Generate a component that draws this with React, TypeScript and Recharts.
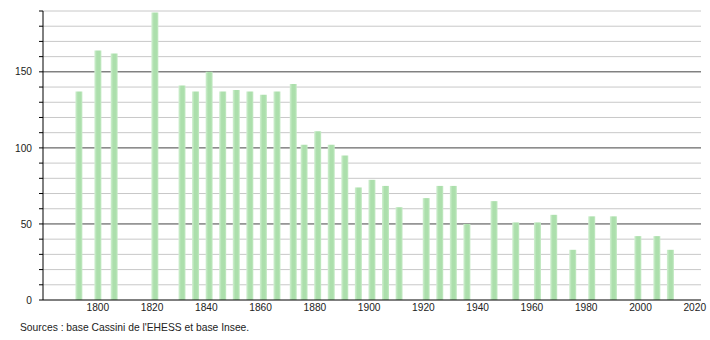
import React from 'react';
import { ComposedChart, Bar, XAxis, YAxis, CartesianGrid } from 'recharts';

const years = [1793, 1800, 1806, 1821, 1831, 1836, 1841, 1846, 1851, 1856, 1861, 1866, 1872, 1876, 1881, 1886, 1891, 1896, 1901, 1906, 1911, 1921, 1926, 1931, 1936, 1946, 1954, 1962, 1968, 1975, 1982, 1990, 1999, 2006, 2011];
const population = [137, 164, 162, 189, 141, 137, 150, 137, 138, 137, 135, 137, 142, 102, 111, 102, 95, 74, 79, 75, 61, 67, 75, 75, 50, 65, 51, 51, 56, 33, 55, 55, 42, 42, 33];
const xTicks = [1800, 1820, 1840, 1860, 1880, 1900, 1920, 1940, 1960, 1980, 2000, 2020];
const yTicks = [0, 10, 20, 30, 40, 50, 60, 70, 80, 90, 100, 110, 120, 130, 140, 150, 160, 170, 180, 190];
const yLabelTicks = [0, 50, 100, 150];
const majorLines = [50, 100, 150];
const minorLines = [10, 20, 30, 40, 60, 70, 80, 90, 110, 120, 130, 140, 160, 170, 180, 190];
const sourceText = "Sources : base Cassini de l'EHESS et base Insee.";

const data = years.map((y, i) => ({ year: y, pop: population[i] }));

const font = '"Liberation Sans", Arial, sans-serif';

export default function App() {
  return (
    <div style={{ position: 'absolute', left: 0, top: 0, width: 710, height: 340, background: '#fff', fontFamily: font }}>
      <ComposedChart width={710} height={340} data={data} margin={{ top: 11, right: 9, bottom: 10, left: 0 }}>
        <defs>
          <linearGradient id="barGrad" x1="0" y1="0" x2="1" y2="0">
            <stop offset="0%" stopColor="#d2f0d2" />
            <stop offset="35%" stopColor="#acdfac" />
            <stop offset="75%" stopColor="#acdfac" />
            <stop offset="100%" stopColor="#c6ebc6" />
          </linearGradient>
        </defs>
        <CartesianGrid vertical={false} horizontalValues={minorLines} stroke="#c8c8c8" strokeWidth={1} />
        <CartesianGrid vertical={false} horizontalValues={majorLines} stroke="#444" strokeWidth={1} />
        <XAxis
          dataKey="year"
          type="number"
          domain={[1779.8, 2022.3]}
          allowDataOverflow
          ticks={xTicks}
          interval={0}
          height={30}
          tickSize={0}
          tickMargin={4}
          axisLine={{ stroke: '#000', strokeWidth: 1 }}
          tick={{ fill: '#222', fontSize: 10.2, fontFamily: font }}
        />
        <YAxis
          type="number"
          domain={[0, 190]}
          ticks={yTicks}
          interval={0}
          width={43}
          tickSize={4}
          tickMargin={7}
          axisLine={{ stroke: '#000', strokeWidth: 1 }}
          tickLine={{ stroke: '#000' }}
          tickFormatter={(v: number) => (yLabelTicks.includes(v) ? String(v) : '')}
          tick={{ fill: '#222', fontSize: 10.2, fontFamily: font }}
        />
        <Bar dataKey="pop" barSize={7} fill="url(#barGrad)" isAnimationActive={false} />
      </ComposedChart>
      <div style={{ position: 'absolute', left: 20, top: 322, fontSize: 10.3, color: '#222', fontFamily: font, whiteSpace: 'nowrap' }}>
        {sourceText}
      </div>
    </div>
  );
}
